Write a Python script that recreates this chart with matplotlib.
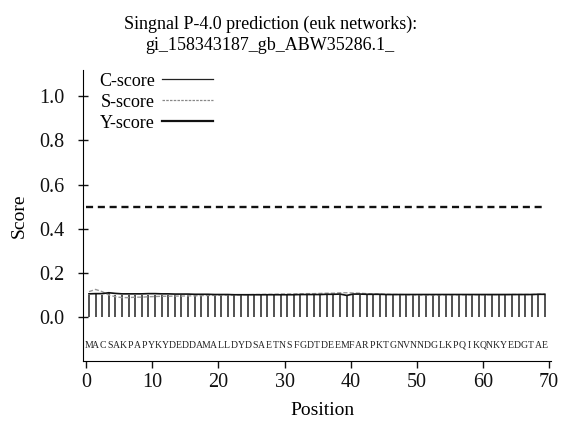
import numpy as np
import matplotlib
matplotlib.use("Agg")
import matplotlib.pyplot as plt

plt.rcParams['font.family'] = ['Liberation Serif', 'DejaVu Serif']

title = "Singnal P-4.0 prediction (euk networks):\ngi_158343187_gb_ABW35286.1_"
seq = "MACSAKPAPYKYDEDDAMALLDYDSAETNSFGDTDEEMFARPKTGNVNNDGLKPQIKQNKYEDGTAE"

pos = np.arange(1, 71)
c_score = np.array([
    0.10, 0.11, 0.10, 0.11, 0.10, 0.10, 0.10, 0.10, 0.10, 0.10,
    0.10, 0.10, 0.10, 0.10, 0.10, 0.10, 0.10, 0.10, 0.10, 0.10,
    0.10, 0.10, 0.10, 0.10, 0.10, 0.10, 0.10, 0.10, 0.10, 0.10,
    0.10, 0.10, 0.10, 0.10, 0.10, 0.10, 0.10, 0.10, 0.10, 0.10,
    0.10, 0.10, 0.10, 0.10, 0.10, 0.10, 0.10, 0.10, 0.10, 0.10,
    0.10, 0.10, 0.10, 0.10, 0.10, 0.10, 0.10, 0.10, 0.10, 0.10,
    0.10, 0.10, 0.10, 0.10, 0.10, 0.10, 0.10, 0.10, 0.10, 0.10])
s_score = np.array([
    0.115, 0.125, 0.115, 0.100, 0.092, 0.088, 0.088, 0.090, 0.090, 0.092,
    0.093, 0.094, 0.094, 0.095, 0.095, 0.096, 0.096, 0.097, 0.098, 0.098,
    0.099, 0.100, 0.100, 0.101, 0.101, 0.102, 0.102, 0.103, 0.103, 0.104,
    0.104, 0.105, 0.105, 0.106, 0.106, 0.107, 0.108, 0.108, 0.110, 0.110,
    0.109, 0.108, 0.106, 0.105, 0.104, 0.103, 0.102, 0.102, 0.101, 0.101,
    0.100, 0.100, 0.100, 0.100, 0.101, 0.101, 0.101, 0.101, 0.101, 0.101,
    0.101, 0.101, 0.101, 0.101, 0.102, 0.102, 0.102, 0.102, 0.103, 0.104])
y_score = np.array([
    0.105, 0.106, 0.106, 0.110, 0.107, 0.105, 0.105, 0.105, 0.105, 0.106,
    0.106, 0.105, 0.105, 0.104, 0.104, 0.104, 0.103, 0.103, 0.103, 0.102,
    0.102, 0.102, 0.101, 0.101, 0.101, 0.101, 0.101, 0.101, 0.101, 0.101,
    0.101, 0.101, 0.102, 0.102, 0.102, 0.102, 0.103, 0.103, 0.104, 0.098,
    0.104, 0.104, 0.103, 0.103, 0.103, 0.102, 0.102, 0.102, 0.102, 0.102,
    0.102, 0.102, 0.102, 0.102, 0.102, 0.102, 0.102, 0.102, 0.102, 0.102,
    0.102, 0.102, 0.102, 0.102, 0.102, 0.102, 0.102, 0.102, 0.103, 0.103])
threshold = 0.5
shift = 0.6  # the marks sit a little left of the tick positions

fig = plt.figure(figsize=(5.69, 4.22), dpi=100)
ax = fig.add_axes([0.1459, 0.144, 0.842, 0.691])

x = pos - shift
ax.vlines(x, 0, c_score, color='#222222', lw=1.1)
ax.plot(x, s_score, color='#999999', lw=1.0, ls=(0, (3, 1.5)))
ax.plot(x, y_score, color='#111111', lw=1.2)
ax.plot([0, 69], [threshold, threshold], color='#111111', lw=1.7, ls=(0, (3, 2)))

# legend rows (text then line, R style)
h_c, = ax.plot([], [], color='#222222', lw=0.9)
h_s, = ax.plot([], [], color='#888888', lw=0.9, ls=(0, (2, 1)))
h_y, = ax.plot([], [], color='#111111', lw=1.6)
ax.legend([h_c, h_s, h_y], ['C-score', 'S-score', 'Y-score'], loc='upper left',
          bbox_to_anchor=(0.0, 1.045), frameon=False, markerfirst=False,
          fontsize=13, handlelength=2.8, handletextpad=0.4, labelspacing=0.22)

lx = np.linspace(1, 70, len(seq)) - shift
for xi, ch in zip(lx, seq):
    ax.text(xi, -0.127, ch, fontsize=7, ha='center', va='center', color='#222222')

ax.set_xlim(-0.5, 72)
ax.set_ylim(-0.2, 1.12)
ax.set_xticks(np.arange(0, 71, 10))
ax.set_yticks(np.arange(0, 1.01, 0.2))
ax.set_yticklabels(['%.1f' % v for v in np.arange(0, 1.01, 0.2)])
ax.tick_params(axis='both', labelsize=14.5, direction='out', length=5, width=1, colors='#111111')
ax.tick_params(axis='y', direction='inout', length=7, pad=10)
ax.spines['top'].set_visible(False)
ax.spines['right'].set_visible(False)
ax.spines['bottom'].set_bounds(-0.5, 70.3)
ax.set_xlabel('Position', fontsize=14, labelpad=7)
ax.set_ylabel('Score', fontsize=14, labelpad=8)

fig.text(0.475, 0.962, title, ha='center', va='top', fontsize=13, linespacing=1.3)

fig.savefig('out.png', dpi=100)
